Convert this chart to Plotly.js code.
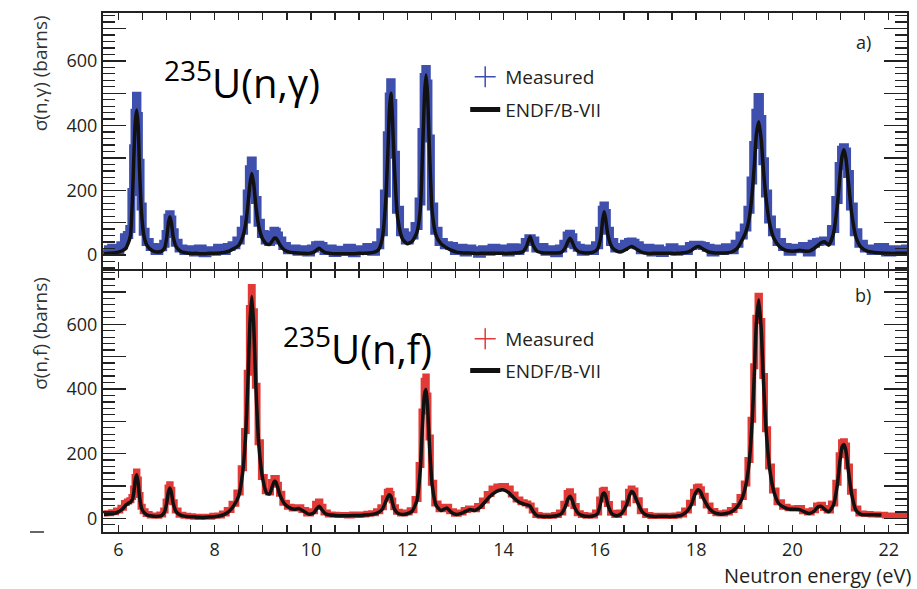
<!DOCTYPE html>
<html>
<head>
<meta charset="utf-8">
<script src="https://cdn.plot.ly/plotly-3.0.1.min.js"></script>
<style>html,body{margin:0;padding:0;background:#fff;}#chart{width:917px;height:589px;}</style>
</head>
<body>
<div id="chart"></div>
<script>
// Neutron energy grid (eV)
const energy = [
5.70, 5.80, 5.90, 6.00, 6.08, 6.15, 6.20, 6.25, 6.29, 6.32,
6.35, 6.38, 6.41, 6.44, 6.48, 6.53, 6.60, 6.70, 6.80, 6.90,
6.96, 7.00, 7.04, 7.07, 7.10, 7.14, 7.20, 7.30, 7.40, 7.50,
7.60, 7.70, 7.80, 7.90, 8.00, 8.10, 8.20, 8.30, 8.40, 8.50,
8.58, 8.64, 8.69, 8.73, 8.77, 8.81, 8.86, 8.92, 9.00, 9.08,
9.14, 9.20, 9.24, 9.27, 9.31, 9.36, 9.45, 9.55, 9.65, 9.75,
9.85, 9.95, 10.05, 10.12, 10.17, 10.22, 10.30, 10.40, 10.50, 10.60,
10.70, 10.80, 10.90, 11.00, 11.10, 11.20, 11.30, 11.40, 11.48, 11.55,
11.60, 11.63, 11.66, 11.69, 11.73, 11.80, 11.90, 12.00, 12.10, 12.20,
12.27, 12.32, 12.36, 12.39, 12.42, 12.46, 12.52, 12.60, 12.70, 12.82,
12.92, 13.02, 13.12, 13.22, 13.30, 13.40, 13.50, 13.60, 13.70, 13.80,
13.90, 14.00, 14.10, 14.20, 14.30, 14.40, 14.48, 14.55, 14.62, 14.70,
14.80, 14.90, 15.00, 15.10, 15.20, 15.28, 15.34, 15.38, 15.42, 15.48,
15.56, 15.65, 15.75, 15.85, 15.95, 16.02, 16.06, 16.09, 16.12, 16.17,
16.25, 16.35, 16.45, 16.55, 16.62, 16.66, 16.70, 16.78, 16.88, 17.00,
17.10, 17.20, 17.30, 17.40, 17.50, 17.60, 17.70, 17.80, 17.90, 17.97,
18.02, 18.05, 18.09, 18.15, 18.25, 18.35, 18.45, 18.55, 18.65, 18.75,
18.85, 18.95, 19.03, 19.10, 19.16, 19.21, 19.25, 19.30, 19.35, 19.40,
19.46, 19.53, 19.62, 19.72, 19.85, 19.95, 20.05, 20.15, 20.25, 20.35,
20.45, 20.53, 20.60, 20.67, 20.75, 20.85, 20.93, 20.99, 21.03, 21.07,
21.11, 21.16, 21.23, 21.32, 21.42, 21.55, 21.70, 21.85, 22.00, 22.15,
22.30, 22.38
];

// (n,gamma) ENDF/B-VII (barns)
const captureEndf = [
4, 5, 6, 9, 13, 20, 35, 60, 170, 300,
410, 448, 400, 260, 130, 60, 28, 14, 9, 12,
22, 50, 100, 118, 100, 55, 25, 11, 7, 5,
5, 4, 4, 5, 5, 6, 8, 12, 20, 30,
55, 93, 155, 217, 252, 220, 145, 85, 48, 34,
33, 44, 52, 52, 44, 30, 15, 9, 7, 6,
5, 5, 8, 16, 21, 15, 7, 5, 4, 4,
4, 4, 4, 5, 5, 6, 8, 16, 50, 160,
330, 450, 500, 430, 280, 115, 50, 35, 42, 70,
140, 330, 500, 556, 500, 330, 130, 60, 35, 22,
14, 9, 7, 6, 6, 5, 5, 5, 5, 5,
5, 5, 5, 6, 7, 10, 28, 57, 28, 11,
7, 6, 6, 6, 8, 22, 42, 52, 42, 22,
10, 7, 6, 8, 18, 55, 110, 134, 112, 60,
25, 12, 10, 18, 24, 26, 24, 16, 8, 5,
5, 5, 5, 5, 5, 5, 6, 8, 14, 22,
26, 26, 24, 18, 10, 7, 6, 6, 7, 10,
20, 45, 70, 110, 185, 280, 370, 412, 360, 260,
165, 95, 50, 28, 15, 12, 12, 15, 12, 12,
20, 30, 38, 41, 30, 65, 150, 250, 305, 325,
300, 230, 130, 55, 25, 12, 8, 6, 5, 5,
5, 5
];

// (n,gamma) measured (barns)
const captureMeasured = [
18, 10, 22, 14, 30, 55, 62, 80, 195, 330,
440, 492, 430, 285, 150, 72, 40, 25, 12, 24,
35, 65, 115, 126, 110, 70, 38, 20, 12, 18,
8, 20, 5, 15, 10, 22, 12, 25, 30, 45,
75, 110, 190, 265, 292, 250, 170, 100, 65, 45,
40, 62, 75, 72, 60, 45, 28, 15, 20, 10,
18, 8, 20, 30, 32, 28, 12, 20, 6, 16,
10, 22, 5, 18, 12, 25, 10, 30, 70, 190,
370, 490, 534, 470, 310, 140, 70, 45, 60, 90,
165, 380, 550, 575, 530, 360, 150, 75, 40, 30,
28, 12, 22, 8, 20, 15, 4, 18, 10, 22,
12, 20, 8, 24, 12, 22, 40, 52, 45, 20,
25, 10, 18, 5, 20, 35, 60, 66, 55, 30,
22, 10, 20, 12, 30, 75, 140, 153, 130, 75,
40, 20, 25, 35, 40, 42, 38, 30, 15, 22,
8, 20, 6, 15, 24, 10, 18, 12, 28, 32,
30, 32, 30, 28, 22, 8, 20, 12, 24, 15,
35, 60, 85, 140, 230, 340, 440, 488, 420, 290,
190, 110, 70, 40, 25, 10, 22, 18, 28, 8,
35, 40, 42, 45, 42, 80, 170, 275, 325, 333,
320, 250, 150, 70, 35, 20, 12, 25, 8, 18,
12, 20
];

// (n,f) ENDF/B-VII (barns)
const fissionEndf = [
12, 13, 15, 20, 28, 40, 46, 50, 58, 80,
118, 135, 110, 65, 32, 18, 10, 7, 6, 9,
20, 45, 82, 94, 80, 45, 20, 9, 6, 5,
4, 3, 3, 4, 5, 7, 12, 22, 40, 70,
140, 250, 420, 600, 686, 600, 390, 220, 120, 78,
75, 100, 114, 112, 95, 70, 45, 33, 28, 30,
22, 13, 16, 30, 37, 28, 14, 10, 9, 8,
8, 8, 9, 9, 10, 11, 13, 18, 28, 50,
68, 73, 68, 50, 30, 16, 12, 14, 22, 55,
150, 300, 385, 398, 350, 230, 100, 40, 24, 32,
18, 12, 15, 22, 27, 24, 32, 48, 65, 78,
86, 88, 80, 65, 52, 45, 42, 38, 20, 8,
6, 6, 6, 8, 14, 35, 60, 68, 58, 32,
14, 8, 6, 7, 14, 50, 75, 78, 70, 40,
14, 8, 15, 40, 72, 83, 78, 50, 20, 8,
6, 6, 6, 6, 6, 7, 10, 20, 42, 72,
86, 88, 82, 62, 35, 20, 14, 13, 16, 22,
35, 60, 100, 170, 290, 450, 600, 676, 590, 420,
260, 150, 80, 45, 32, 28, 28, 27, 20, 15,
22, 35, 37, 28, 20, 40, 100, 180, 220, 228,
210, 150, 75, 25, 12, 11, 11, 10, null, null,
null, null
];

// (n,f) measured (barns)
const fissionMeasured = [
15, 16, 19, 24, 33, 47, 52, 56, 66, 92,
128, 145, 120, 72, 36, 22, 13, 9, 8, 12,
24, 52, 95, 105, 88, 50, 24, 11, 8, 6,
5, 4, 5, 5, 8, 9, 15, 26, 45, 80,
155, 270, 450, 650, 715, 640, 410, 235, 128, 84,
80, 112, 125, 125, 104, 76, 48, 36, 30, 34,
26, 15, 22, 45, 52, 36, 18, 12, 11, 10,
10, 9, 12, 10, 12, 14, 16, 22, 34, 62,
82, 85, 75, 55, 34, 20, 15, 18, 25, 60,
165, 330, 425, 438, 380, 250, 110, 46, 28, 36,
22, 14, 18, 26, 30, 28, 38, 55, 75, 92,
98, 100, 92, 74, 58, 50, 46, 40, 24, 10,
8, 7, 8, 10, 18, 45, 78, 84, 68, 38,
16, 10, 8, 9, 18, 58, 85, 88, 76, 44,
17, 10, 18, 46, 82, 92, 86, 56, 22, 10,
7, 8, 7, 8, 7, 9, 12, 24, 48, 82,
96, 98, 90, 70, 40, 23, 16, 15, 18, 26,
38, 66, 108, 180, 305, 470, 620, 688, 610, 440,
275, 160, 86, 50, 36, 31, 30, 32, 22, 18,
25, 40, 42, 32, 24, 46, 110, 195, 235, 238,
225, 160, 82, 30, 15, 13, 12, 11, 9, 9,
8, 9
];

const yTickVals = [0, 100, 200, 300, 400, 500, 600, 700];
const yTickText = ['0', ' ', '200', ' ', '400', ' ', '600', ' '];
const seriesNames = ['Measured', 'ENDF/B-VII'];

const BLUE = '#3f4fae', RED = '#e23a36', BLACK = '#111111', INK = '#231f20';
const FONT = 'Open Sans, Noto Sans, sans-serif';

const traces = [
  // top panel (capture)
  {x: energy, y: captureMeasured, xaxis: 'x2', yaxis: 'y2', mode: 'lines',
   line: {color: BLUE, width: 8, shape: 'hvh'}, showlegend: false, hoverinfo: 'skip'},
  {x: energy, y: captureEndf, xaxis: 'x2', yaxis: 'y2', mode: 'lines',
   line: {color: BLACK, width: 3.5, shape: 'spline', smoothing: 0.6}, showlegend: false, hoverinfo: 'skip'},
  {x: [null], y: [null], xaxis: 'x2', yaxis: 'y2', mode: 'markers', name: seriesNames[0],
   legend: 'legend', legendgroup: 'a1',
   marker: {symbol: 'cross-thin-open', size: 15, color: BLUE, line: {color: BLUE, width: 1.5}}},
  {x: [null], y: [null], xaxis: 'x2', yaxis: 'y2', mode: 'lines', name: seriesNames[1],
   legend: 'legend', legendgroup: 'a2', line: {color: BLACK, width: 5}},
  // bottom panel (fission)
  {x: energy, y: fissionMeasured, xaxis: 'x', yaxis: 'y', mode: 'lines',
   line: {color: RED, width: 6, shape: 'hvh'}, showlegend: false, hoverinfo: 'skip'},
  {x: energy, y: fissionEndf, xaxis: 'x', yaxis: 'y', mode: 'lines',
   line: {color: BLACK, width: 3.5, shape: 'spline', smoothing: 0.6}, showlegend: false, hoverinfo: 'skip', connectgaps: false},
  {x: [null], y: [null], xaxis: 'x', yaxis: 'y', mode: 'markers', name: seriesNames[0],
   legend: 'legend2', legendgroup: 'b1',
   marker: {symbol: 'cross-thin-open', size: 15, color: RED, line: {color: RED, width: 1.5}}},
  {x: [null], y: [null], xaxis: 'x', yaxis: 'y', mode: 'lines', name: seriesNames[1],
   legend: 'legend2', legendgroup: 'b2', line: {color: BLACK, width: 5}}
];

function xAxisSpec(extra) {
  return Object.assign({
    range: [5.68, 22.38], autorange: false, tickmode: 'linear', tick0: 0, dtick: 2,
    ticks: 'inside', ticklen: 7, tickwidth: 1.3, tickcolor: '#222',
    showline: true, linecolor: '#222', linewidth: 2, mirror: 'allticks',
    showgrid: false, zeroline: false,
    tickfont: {family: FONT, size: 18, color: INK},
    minor: {tickmode: 'linear', tick0: 0, dtick: 0.5, ticks: 'inside', ticklen: 7, tickwidth: 1.3, tickcolor: '#222', showgrid: false}
  }, extra);
}
function yAxisSpec(extra) {
  return Object.assign({
    autorange: false, tickmode: 'array', tickvals: yTickVals.slice(), ticktext: yTickText.slice(),
    ticks: 'inside', ticklen: 23, tickwidth: 1.3, tickcolor: '#222',
    showline: true, linecolor: '#222', linewidth: 2, mirror: 'allticks',
    showgrid: false, zeroline: false,
    tickfont: {family: FONT, size: 18, color: INK},
    minor: {tickmode: 'linear', tick0: 0, dtick: 20, ticks: 'inside', ticklen: 12, tickwidth: 1.3, tickcolor: '#222', showgrid: false}
  }, extra);
}

// axis lines are drawn 1px outside each plot area, so leave a 2px gap for the shared edge to coincide
const bottomTop = 261 / 519, topBottom = 263 / 519;
const layout = {
  width: 917, height: 589,
  margin: {l: 103, r: 10, t: 13, b: 57, pad: 0},
  paper_bgcolor: '#fff', plot_bgcolor: '#fff',
  font: {family: FONT, color: INK},
  xaxis: xAxisSpec({anchor: 'y', domain: [0, 1]}),
  xaxis2: xAxisSpec({anchor: 'y2', domain: [0, 1], showticklabels: false}),
  yaxis: yAxisSpec({anchor: 'x', domain: [0, bottomTop], range: [-42.3, 764.5]}),
  yaxis2: yAxisSpec({anchor: 'x2', domain: [topBottom, 1], range: [-43.3, 748]}),
  legend: {x: 0.4505, y: 0.9133, xanchor: 'left', yanchor: 'top', bgcolor: 'rgba(0,0,0,0)',
    font: {family: FONT, size: 19, color: INK}, traceorder: 'grouped', tracegroupgap: 5, itemwidth: 30},
  legend2: {x: 0.4505, y: 0.4085, xanchor: 'left', yanchor: 'top', bgcolor: 'rgba(0,0,0,0)',
    font: {family: FONT, size: 19, color: INK}, traceorder: 'grouped', tracegroupgap: 4, itemwidth: 30},
  annotations: [
    {text: 'σ(n,γ) (barns)', xref: 'paper', yref: 'paper', x: -0.078, y: 1.0, xanchor: 'center', yanchor: 'top',
     textangle: -90, showarrow: false, font: {family: FONT, size: 19, color: '#333'}},
    {text: 'σ(n,f) (barns)', xref: 'paper', yref: 'paper', x: -0.078, y: 0.4952, xanchor: 'center', yanchor: 'top',
     textangle: -90, showarrow: false, font: {family: FONT, size: 19, color: '#333'}},
    {text: '<sup>235</sup>U(n,γ)', xref: 'paper', yref: 'paper', x: 0.0735, y: 0.870, xanchor: 'left', yanchor: 'middle',
     showarrow: false, font: {family: FONT, size: 40, color: '#000'}},
    {text: '<sup>235</sup>U(n,f)', xref: 'paper', yref: 'paper', x: 0.2215, y: 0.3575, xanchor: 'left', yanchor: 'middle',
     showarrow: false, font: {family: FONT, size: 40, color: '#000'}},
    {text: 'a)', xref: 'paper', yref: 'paper', x: 0.9575, y: 0.944, xanchor: 'right', yanchor: 'middle',
     showarrow: false, font: {family: FONT, size: 18, color: INK}},
    {text: 'b)', xref: 'paper', yref: 'paper', x: 0.9575, y: 0.4557, xanchor: 'right', yanchor: 'middle',
     showarrow: false, font: {family: FONT, size: 18, color: INK}},
    {text: 'Neutron energy (eV)', xref: 'paper', yref: 'paper', x: 1.0075, y: -0.0829, xanchor: 'right', yanchor: 'middle',
     showarrow: false, font: {family: FONT, size: 20, color: INK}}
  ],
  shapes: [
    {type: 'line', xref: 'paper', yref: 'paper', x0: -0.0908, x1: -0.0734, y0: 0, y1: 0,
     line: {color: '#333', width: 1.5}}
  ]
};

Plotly.newPlot('chart', traces, layout, {displayModeBar: false, staticPlot: true});
</script>
</body>
</html>
